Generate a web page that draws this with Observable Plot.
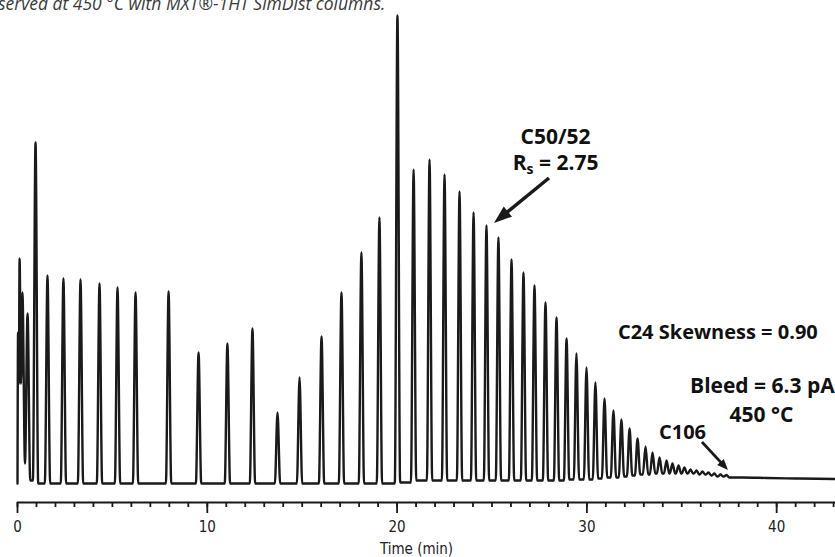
<!DOCTYPE html>
<html><head><meta charset="utf-8">
<script src="https://cdn.jsdelivr.net/npm/d3@7"></script>
<script src="https://cdn.jsdelivr.net/npm/@observablehq/plot@0.6"></script>
<style>
body{margin:0;background:#fff;}
#wrap{position:relative;width:835px;height:557px;overflow:hidden;}
#sub{position:absolute;left:-2px;top:-5px;font:italic 17.5px "Open Sans";color:#3a3a3a;white-space:nowrap;line-height:16px;}
</style></head><body><div id="wrap"></div>
<script>
// Peak apex retention times (min) and heights (arbitrary signal units above baseline)
const peakTimes = [0.03,0.11,0.26,0.53,0.95,1.58,2.42,3.32,4.32,5.27,6.22,7.96,9.54,11.06,12.38,13.70,14.86,16.02,17.07,18.12,19.07,20.02,20.87,21.71,22.50,23.29,24.03,24.71,25.34,26.03,26.66,27.24,27.82,28.40,28.93,29.45,29.98,30.45,30.93,31.40,31.82,32.25,32.67,33.09,33.46,33.83,34.20,34.51,34.83,35.14,35.46,35.78,36.09,36.41,36.72,37.04,37.36];
const peakHeights = [151,225,191,170,341,208,205,204,200,196,191,192,131,140,155,71,106,147,191,231,266,468,314,324,309,292,271,258,246,224,211,198,181,166,145,130,116,101,85,73,64,55,45,37,31,26,23,20,18,16,14,13,12,11,10,9,8.5];
// Signal level of the valley following each peak
const valleyLevels = [100,100,20,3,0,0,0,0,0,0,0,0,0,0,0,0,0,0,0,0,0,1,3,3,3,3,3,3,3,3,3,3,3,3,4,4,4,5,6,6,7,8,9,9,10,10,10,10,10,10,10,9,9,8,7,7,6];
// Column bleed tail after the last resolved peak
const tailTimes = [38.2,39.5,41,43.1];
const tailLevels = [6,5.5,5,4.5];

const majorTicks = [0,10,20,30,40];
const minorTicks = d3.range(0,44);

const labels = ["C50/52","Rs = 2.75","C24 Skewness = 0.90","Bleed = 6.3 pA","450 °C","C106"];
const labelTimes = [28.35,28.35,36.9,39.25,39.2,35.04];
const labelLevels = [346,320,151,97,68,51];
const labelSizes = [21,21,20,21,21,20];

const arrowFromT = [28.03,36.09], arrowFromS = [305,41];
const arrowToT = [25.13,37.46], arrowToS = [260,13];

// Build the trace from apexes and valleys
const W = 0.14, n = peakTimes.length;
const trace = [{t:0,s:0}];
for (let i = 0; i < n; i++) {
  const t = peakTimes[i];
  const prevMid = i > 0 ? (peakTimes[i-1] + t) / 2 : -Infinity;
  const left = Math.max(t - W, prevMid, 0);
  const prevLevel = i > 0 ? valleyLevels[i-1] : 0;
  const last = trace[trace.length-1];
  if (left > last.t + 1e-9) trace.push({t:left, s:prevLevel});
  trace.push({t, s:peakHeights[i]});
  const nextMid = i < n-1 ? (t + peakTimes[i+1]) / 2 : Infinity;
  trace.push({t:Math.min(t + W, nextMid), s:valleyLevels[i]});
}
tailTimes.forEach((t,i) => trace.push({t, s:tailLevels[i]}));

const ink = "#1a1a1a";
function arrowMark(i, headLen, headW, sw) {
  return (index, scales) => {
    const x1 = scales.x(arrowFromT[i]), y1 = scales.y(arrowFromS[i]);
    const x2 = scales.x(arrowToT[i]), y2 = scales.y(arrowToS[i]);
    const a = Math.atan2(y2 - y1, x2 - x1);
    const bx = x2 - headLen * Math.cos(a), by = y2 - headLen * Math.sin(a);
    const px = -Math.sin(a) * headW / 2, py = Math.cos(a) * headW / 2;
    const g = d3.create("svg:g");
    g.append("line").attr("x1", x1).attr("y1", y1).attr("x2", bx + Math.cos(a)*2).attr("y2", by + Math.sin(a)*2)
      .attr("stroke", ink).attr("stroke-width", sw);
    g.append("path").attr("d", `M${x2},${y2}L${bx+px},${by+py}L${bx-px},${by-py}Z`).attr("fill", ink);
    return g.node();
  };
}

const labelData = labels.map((l,i) => ({l, t:labelTimes[i], s:labelLevels[i], size:labelSizes[i]}));

const plot = Plot.plot({
  width: 835, height: 557,
  marginLeft: 17, marginRight: 0, marginTop: 15, marginBottom: 74,
  x: {domain: [0, 43.1]},
  y: {domain: [0, 468], axis: null},
  style: {background: "#fff"},
  marks: [
    Plot.line(trace, {x: "t", y: "s", curve: "monotone-x", stroke: ink, strokeWidth: 2.4}),
    Plot.ruleY([0], {dy: 19, stroke: ink, strokeWidth: 2}),
    Plot.axisX(minorTicks, {tickSize: 5, tickFormat: () => "", dy: 19, stroke: ink, strokeWidth: 1.8, label: null}),
    Plot.axisX(majorTicks, {tickSize: 11, tickPadding: 8, dy: 19, stroke: ink, strokeWidth: 1.8, fill: "#222", fontSize: 15, fontFamily: "Liberation Sans Narrow, DejaVu Sans Condensed, sans-serif", label: null}),
    Plot.text(["Time (min)"], {frameAnchor: "bottom", lineAnchor: "middle", dy: 66, dx: -10, fontSize: 15, fontFamily: "Liberation Sans Narrow, DejaVu Sans Condensed, sans-serif", fill: "#222"}),
    ...labelData.map(d => Plot.text([d], {x: "t", y: "s", text: "l", fontSize: d.size, fontWeight: "bold", fontFamily: "Open Sans", fill: "#111", lineAnchor: "middle"})),
    arrowMark(0, 18, 13, 3.5),
    arrowMark(1, 11, 9, 2.8)
  ]
});

d3.select(plot).selectAll("text").filter(function(){ return this.textContent === "Rs = 2.75"; })
  .html('R<tspan font-size="14" dy="4">s</tspan><tspan dy="-4"> = 2.75</tspan>');

const wrap = document.getElementById("wrap");
wrap.appendChild(plot);
const sub = document.createElement("div");
sub.id = "sub";
sub.textContent = "served at 450 °C with MXT®-1HT SimDist columns.";
wrap.appendChild(sub);
</script>
</body></html>
